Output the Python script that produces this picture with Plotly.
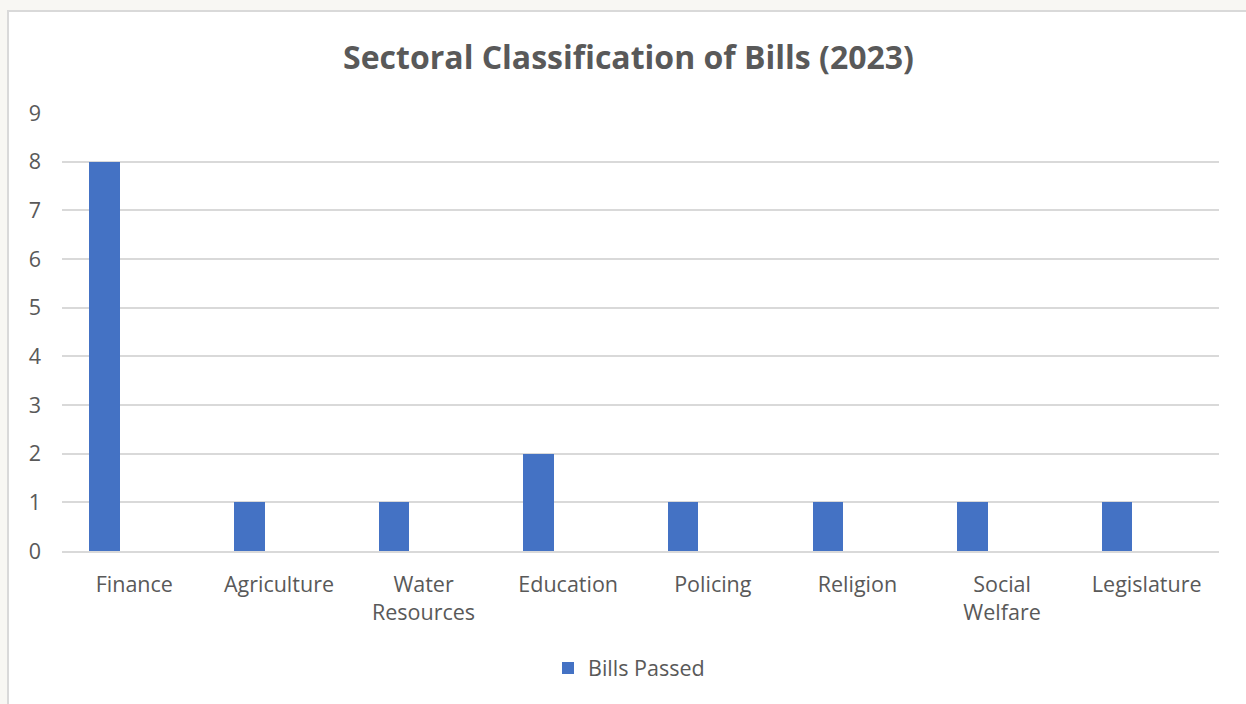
import plotly.graph_objects as go

categories = ["Finance", "Agriculture", "Water<br>Resources", "Education",
              "Policing", "Religion", "Social<br>Welfare", "Legislature"]
bills_passed = [8, 1, 1, 2, 1, 1, 1, 1]
y_ticks = [0, 1, 2, 3, 4, 5, 6, 7, 8, 9]

FONT = "'Open Sans', Lato, sans-serif"
TXT = "#595959"
FS = 21.5

# layout geometry (pixels)
L, R, T, B = 62, 27, 113, 153
W, H = 1246, 704
pw, ph = W - L - R, H - T - B

def px_x(x):
    return (x - L) / pw

def px_y(y):
    return (H - B - y) / ph

fig = go.Figure()
fig.add_trace(go.Bar(
    x=categories, y=bills_passed, name="Bills Passed",
    marker=dict(color="#4472C4", line=dict(width=0)),
    width=0.211, offset=-0.31,
))

fig.add_shape(type="rect", xref="paper", yref="paper",
              x0=px_x(8), x1=px_x(1300), y0=px_y(760), y1=px_y(11),
              fillcolor="white", line=dict(color="#d9d9d9", width=2),
              layer="below")

fig.update_layout(
    width=W, height=H,
    margin=dict(l=L, r=R, t=T, b=B),
    paper_bgcolor="#f8f7f3",
    plot_bgcolor="rgba(0,0,0,0)",
    title=dict(text="<b>Sectoral Classification of Bills (2023)</b>",
               font=dict(family=FONT, size=32, color=TXT),
               x=px_x(628.5), xref="paper", xanchor="center",
               y=1 - 58 / H, yref="container", yanchor="middle"),
    font=dict(family=FONT, color=TXT, size=FS),
    showlegend=True,
    legend=dict(orientation="h", x=px_x(629), xanchor="center",
                y=px_y(668), yanchor="middle",
                font=dict(family=FONT, size=FS, color=TXT),
                bgcolor="rgba(0,0,0,0)"),
    bargap=0,
)
fig.update_xaxes(
    type="category", showgrid=False, showline=True, linecolor="#d9d9d9",
    linewidth=2, ticks="", ticklabelstandoff=13,
    tickfont=dict(family=FONT, size=FS, color=TXT),
)
fig.update_yaxes(
    range=[0, 9], tickvals=y_ticks, showgrid=True, gridcolor="#d9d9d9",
    gridwidth=2, zeroline=False, showline=False, ticks="",
    ticklabelstandoff=20,
    tickfont=dict(family=FONT, size=FS, color=TXT),
)

fig.write_html("out.html")
